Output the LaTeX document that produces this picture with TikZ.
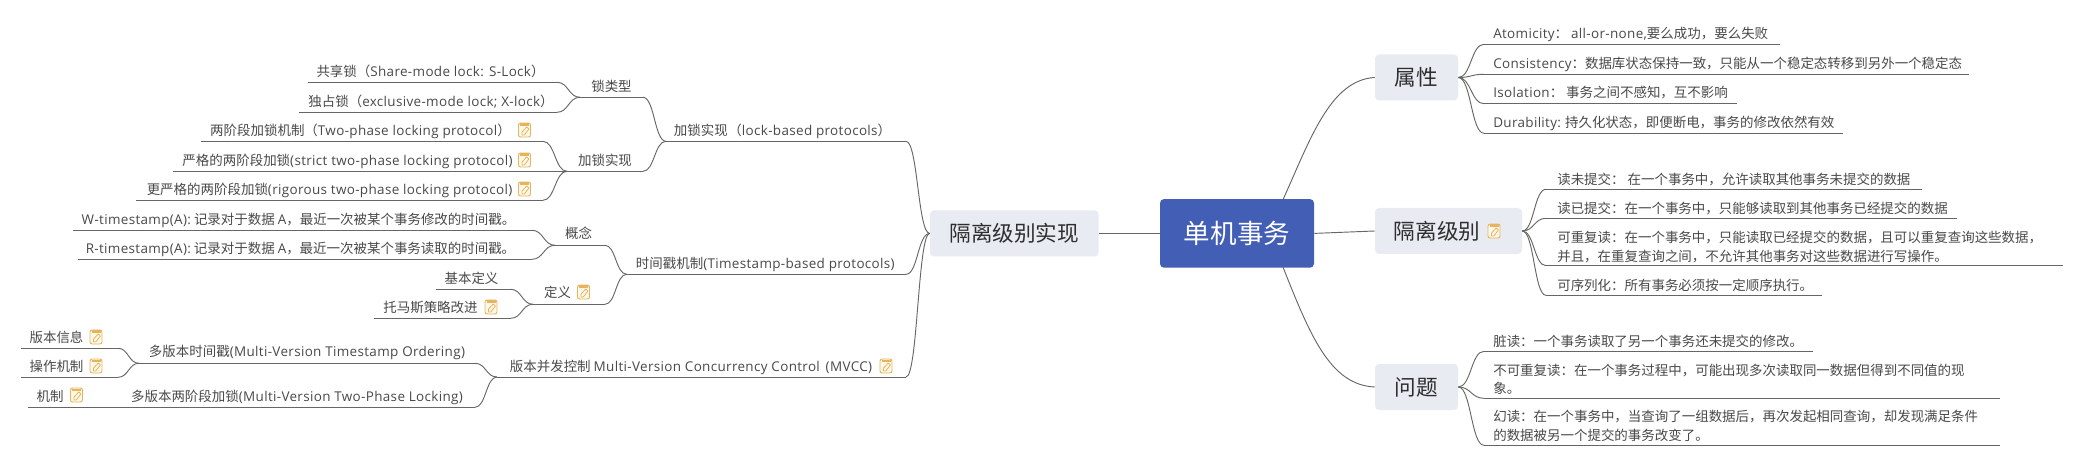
\documentclass[tikz,border=0pt]{standalone}
\usepackage{fontspec}
\setmainfont{Noto Sans CJK SC}
\newfontfamily\latfont[LetterSpace=2.5]{Open Sans}
\newcommand\latn[1]{{\latfont #1}}
\usetikzlibrary{calc}
\definecolor{txt}{HTML}{484848}
\definecolor{lnk}{HTML}{666666}
\definecolor{boxc}{HTML}{E9EBF3}
\definecolor{rootc}{HTML}{425EB5}
\definecolor{noteo}{HTML}{E6B45C}
\definecolor{notef}{HTML}{FEF8EA}
\tikzset{
  x=0.75pt,y=-0.75pt,
  link/.style={draw=lnk,line width=0.7pt},
  branch/.style={to path={let \p1=(\tikztostart),\p2=(\tikztotarget),\n1={0.5*(\x1+\x2)} in .. controls (\n1,\y1) and (\n1,\y2) .. (\tikztotarget) \tikztonodes}},
  tp/.style={inner sep=0pt,text=txt,font=\fontsize{10.1pt}{13.5pt}\selectfont,text height=8pt,text depth=2.4pt,yshift=-1.6pt},
  tpm/.style={inner sep=0pt,text=txt,font=\fontsize{10.1pt}{13.7pt}\selectfont,align=left},
  mainbox/.style={inner sep=0pt,fill=boxc,rounded corners=3pt,text=black!82,font=\fontsize{16.2pt}{20pt}\selectfont,minimum height=34.5pt},
  rootbox/.style={inner sep=0pt,fill=rootc,rounded corners=3pt,text=white,font=\fontsize{19.9pt}{24pt}\selectfont,minimum width=115.5pt,minimum height=51.5pt},
  noteicon/.pic={
    \draw[noteo,fill=notef,line width=0.7pt,rounded corners=1.6pt] (-6,-7) rectangle (6,7);
    \fill[noteo] (-4.5,-6.5) rectangle (4.5,-4);
    \draw[noteo,line width=0.6pt,line join=round] (-2.6,5) -- (-2.6,2.2) -- (2.2,-3) -- (4.4,-1) -- (-0.2,5) -- cycle;
  }
}
\newcommand\tp[8]{\node[tp,anchor=#2] (#1) at (#3,#4) {#5};
  \coordinate (#1-a) at (#6,#8); \coordinate (#1-b) at (#7,#8);
  \draw[link] (#1-a) -- (#1-b);}
\newcommand\tpm[8]{\node[tpm,anchor=#2] (#1) at (#3,#4) {#5};
  \coordinate (#1-a) at (#6,#8); \coordinate (#1-b) at (#7,#8);
  \draw[link] (#1-a) -- (#1-b);}
\begin{document}
\begin{tikzpicture}
\useasboundingbox (0,0) rectangle (2083,466);
% main boxes
\node[rootbox] (root) at (1237,233.4) {单机事务};
\node[mainbox,minimum width=126.5pt] (impl) at (1014.3,233.4) {隔离级别实现};
\node[mainbox,minimum width=62.25pt] (attr) at (1416.5,77.5) {属性};
\node[mainbox,minimum width=110.25pt] (iso) at (1448.5,231) {隔离级别\hspace{17.25pt}\mbox{}};
\node[mainbox,minimum width=62.25pt] (prob) at (1416.5,387) {问题};
\pic at (1494,231) {noteicon};
\coordinate (rootT) at (1283,199.6);
\coordinate (rootB) at (1283,267.2);
\draw[link] (root.west) -- (impl.east);
\draw[link] (root.east) -- (iso.west);
\draw[link] (rootT) .. controls (1310,140) and (1330,80) .. (attr.west);
\draw[link] (rootB) .. controls (1310,335) and (1330,385) .. (prob.west);
% right: properties
\tp{a1}{west}{1493}{33}{\latn{Atomicity}：  \latn{all-or-none,}要么成功，要么失败}{1484}{1780}{44.3}
\tp{a2}{west}{1493}{62.7}{\latn{Consistency}：数据库状态保持一致，只能从一个稳定态转移到另外一个稳定态}{1484}{1969}{74.3}
\tp{a3}{west}{1493}{91.7}{\latn{Isolation}：  事务之间不感知，互不影响}{1484}{1737}{103.7}
\tp{a4}{west}{1493}{122}{\latn{Durability:} 持久化状态，即便断电，事务的修改依然有效}{1484}{1842.5}{133.3}
\foreach \k in {a1,a2,a3,a4} \draw[link] (attr.east) to[branch] (\k-a);
% right: isolation levels
\tp{b1}{west}{1557}{178.3}{读未提交： 在一个事务中，允许读取其他事务未提交的数据}{1546}{1922}{189.3}
\tp{b2}{west}{1557}{207.7}{读已提交：在一个事务中，只能够读取到其他事务已经提交的数据}{1546}{1957}{218.3}
\tpm{b3}{west}{1557}{247}{可重复读：在一个事务中，只能读取已经提交的数据，且可以重复查询这些数据，\\并且，在重复查询之间，不允许其他事务对这些数据进行写操作。}{1546}{2062.5}{265.7}
\tp{b4}{west}{1557}{285}{可序列化：所有事务必须按一定顺序执行。}{1546}{1822}{295.3}
\foreach \k in {b1,b2,b3,b4} \draw[link] (iso.east) to[branch] (\k-a);
% right: problems
\tp{c1}{west}{1493}{340.7}{脏读：一个事务读取了另一个事务还未提交的修改。}{1484}{1813}{351.3}
\tpm{c2}{west}{1493}{379.5}{不可重复读：在一个事务过程中，可能出现多次读取同一数据但得到不同值的现\\象。}{1484}{2000}{398.3}
\tpm{c3}{west}{1493}{425.8}{幻读：在一个事务中，当查询了一组数据后，再次发起相同查询，却发现满足条件\\的数据被另一个提交的事务改变了。}{1484}{2000}{445.3}
\foreach \k in {c1,c2,c3} \draw[link] (prob.east) to[branch] (\k-a);
% left, level 2
\tp{l1}{center}{782.5}{130}{加锁实现\hspace{0.5pt}（\latn{lock-based protocols}）}{666}{906}{141.3}
\tp{l2}{center}{765.3}{263}{时间戳机制\latn{(Timestamp-based protocols)}}{626.7}{906}{274.3}
\tp{l3}{center}{691}{366}{版本并发控制 \latn{Multi-Version Concurrency Control\hspace{1.5pt} (MVCC)}}{497}{906}{377}
\pic at (886,366) {noteicon};
\foreach \k in {l1,l2,l3} \draw[link] (impl.west) to[branch] (\k-b);
% left, level 3
\tp{m1}{center}{611.5}{85.7}{锁类型}{580}{643}{97.3}
\tp{m2}{center}{605}{160}{加锁实现}{567}{643}{171.3}
\foreach \k in {m1,m2} \draw[link] (l1-a) to[branch] (\k-b);
\tp{m3}{center}{578.5}{232.7}{概念}{555}{605}{245.3}
\tp{m4}{center}{557.5}{292}{定义}{533}{605}{304.3}
\pic at (583.5,292) {noteicon};
\foreach \k in {m3,m4} \draw[link] (l2-a) to[branch] (\k-b);
\tp{m5}{center}{307}{351}{多版本时间戳\latn{(Multi-Version Timestamp Ordering)}}{139}{475}{363.3}
\tp{m6}{center}{297}{395.7}{多版本两阶段加锁\latn{(Multi-Version Two-Phase Locking)}}{28}{475}{407.3}
\foreach \k in {m5,m6} \draw[link] (l3-a) to[branch] (\k-b);
% left, leaves
\tp{n1}{center}{430.5}{70.7}{共享锁（\latn{Share-mode lock: S-Lock}）}{308}{557}{82.3}
\tp{n2}{center}{431}{101}{独占锁（\latn{exclusive-mode lock; X-lock}）}{299}{557}{112.3}
\foreach \k in {n1,n2} \draw[link] (m1-a) to[branch] (\k-b);
\tp{n3}{center}{360.5}{130}{两阶段加锁机制（\latn{Two-phase locking protocol}）}{201}{543}{141.3}
\tp{n4}{center}{347.5}{160}{严格的两阶段加锁\latn{(strict two-phase locking protocol)}}{172.5}{567}{171.3}
\tp{n5}{center}{329.5}{189}{更严格的两阶段加锁\latn{(rigorous two-phase locking protocol)}}{135.7}{543}{200.3}
\pic at (524.5,130) {noteicon};
\pic at (524.5,160) {noteicon};
\pic at (524.5,189) {noteicon};
\foreach \k in {n3,n5} \draw[link] (m2-a) to[branch] (\k-b);
\tp{n6}{center}{298.5}{219}{\latn{W-timestamp(A):} 记录对于数据 \latn{A}，最近一次被某个事务修改的时间戳。}{73}{532}{230.3}
\tp{n7}{center}{300.5}{248}{\latn{R-timestamp(A):} 记录对于数据 \latn{A}，最近一次被某个事务读取的时间戳。}{78}{532}{259.3}
\foreach \k in {n6,n7} \draw[link] (m3-a) to[branch] (\k-b);
\tp{n8}{center}{471.5}{278}{基本定义}{436.4}{510.7}{289.3}
\tp{n9}{center}{430.5}{307}{托马斯策略改进}{374}{510.7}{318.3}
\pic at (491,307) {noteicon};
\foreach \k in {n8,n9} \draw[link] (m4-a) to[branch] (\k-b);
\tp{o1}{center}{56.5}{337}{版本信息}{21.4}{118}{348.3}
\tp{o2}{center}{56.5}{366}{操作机制}{21.4}{118}{377.3}
\pic at (96,337) {noteicon};
\pic at (96,366) {noteicon};
\foreach \k in {o1,o2} \draw[link] (m5-a) to[branch] (\k-b);
\tp{o3}{center}{50}{395.7}{机制}{28}{475}{407.3}
\pic at (76.5,395) {noteicon};
\end{tikzpicture}
\end{document}
